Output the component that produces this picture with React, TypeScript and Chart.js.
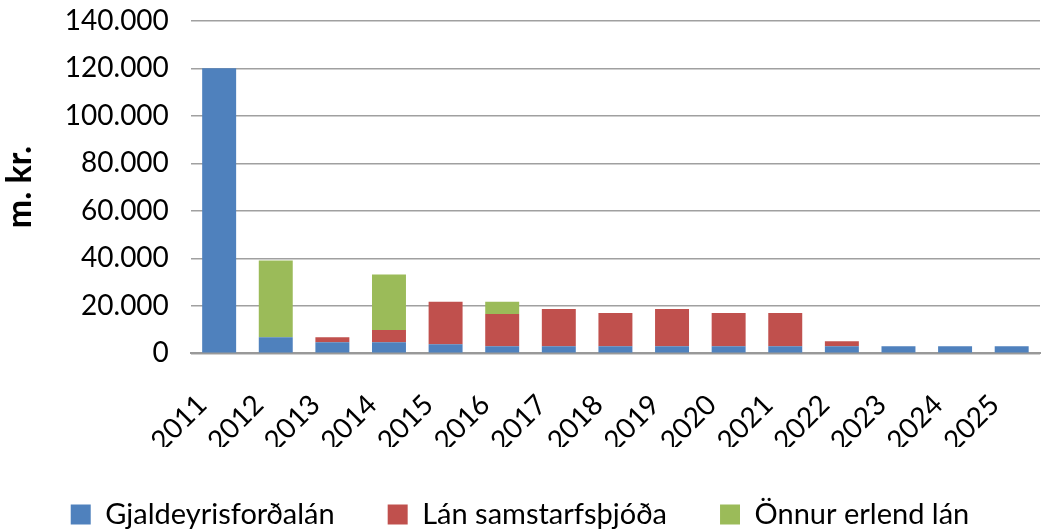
import React, { useEffect, useRef } from "react";
import { Chart, registerables } from "chart.js";

Chart.register(...registerables);

const years = ["2011","2012","2013","2014","2015","2016","2017","2018","2019","2020","2021","2022","2023","2024","2025"];
const gjaldeyris = [120000, 6800, 4700, 4700, 3800, 3000, 3000, 3000, 3000, 3000, 3000, 3000, 3000, 3000, 3000];
const samstarfs = [0, 0, 2100, 5100, 17900, 13600, 15700, 14000, 15700, 14000, 14000, 2100, 0, 0, 0];
const onnur = [0, 32300, 0, 23400, 0, 5100, 0, 0, 0, 0, 0, 0, 0, 0, 0];
const seriesNames = ["Gjaldeyrisforðalán", "Lán samstarfsþjóða", "Önnur erlend lán"];
const yTitle = "m. kr.";

const FONT = "Lato, 'Open Sans', sans-serif";

function fmt(v: number) {
  return String(v).replace(/\B(?=(\d{3})+(?!\d))/g, ".");
}

export default function App() {
  const ref = useRef<HTMLCanvasElement>(null);
  useEffect(() => {
    if (!ref.current) return;
    const chart = new Chart(ref.current, {
      type: "bar",
      data: {
        labels: years,
        datasets: [
          { label: seriesNames[0], data: gjaldeyris, backgroundColor: "#4F81BD" },
          { label: seriesNames[1], data: samstarfs, backgroundColor: "#C0504D" },
          { label: seriesNames[2], data: onnur, backgroundColor: "#9BBB59" },
        ],
      },
      options: {
        animation: false,
        responsive: false,
        maintainAspectRatio: false,
        layout: { padding: { left: 0, right: 14, top: 0, bottom: -8 } },
        datasets: { bar: { categoryPercentage: 0.6, barPercentage: 1 } },
        plugins: {
          legend: {
            position: "bottom",
            labels: {
              boxWidth: 20,
              boxHeight: 20,
              padding: 53,
              color: "#000",
              font: { family: FONT, size: 29 },
            },
          },
          tooltip: { enabled: false },
        },
        scales: {
          x: {
            stacked: true,
            grid: { display: false, drawTicks: false },
            border: { color: "#999", width: 2 },
            ticks: {
              color: "#000",
              font: { family: FONT, size: 28 },
              minRotation: 45,
              maxRotation: 45,
              padding: 35,
              labelOffset: -17,
            },
            afterFit: (s: any) => { s.height = s.height - 46; s.paddingRight = 10; },
          },
          y: {
            stacked: true,
            min: 0,
            max: 140000,
            title: {
              display: true,
              text: yTitle,
              color: "#000",
              font: { family: FONT, size: 34, weight: "bold" },
              padding: { top: 0, bottom: 20 },
            },
            grid: { color: "#a0a0a0", lineWidth: 1.5, drawTicks: true, tickLength: 18, tickColor: "rgba(0,0,0,0)" },
            border: { display: false },
            ticks: {
              stepSize: 20000,
              color: "#000",
              font: { family: FONT, size: 28 },
              padding: 4,
              callback: (v: any) => fmt(Number(v)),
            },
          },
        },
      },
    });
    return () => chart.destroy();
  }, []);
  return (
    <div style={{ position: "fixed", left: 0, top: 0, width: 1054, height: 531, background: "#fff" }}>
      <canvas ref={ref} width={1054} height={531} />
    </div>
  );
}
